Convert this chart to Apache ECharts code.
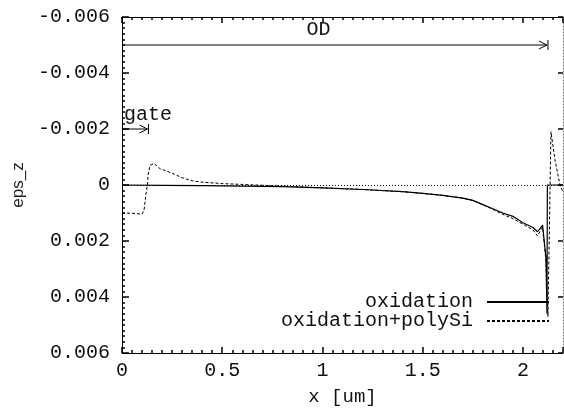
<!DOCTYPE html>
<html>
<head>
<meta charset="utf-8">
<script src="https://cdn.jsdelivr.net/npm/echarts@6/dist/echarts.min.js"></script>
<style>html,body{margin:0;padding:0;background:#fff;}#c{width:564px;height:416px;}</style>
</head>
<body>
<div id="c"></div>
<script>
// ---- data ----
const oxidationX = [0, 0.2, 0.4, 0.6, 0.8, 1.0, 1.2, 1.4, 1.5, 1.6, 1.7, 1.75, 1.8, 1.85, 1.9, 1.95, 2.0, 2.05, 2.073, 2.098, 2.115, 2.12, 2.122, 2.2];
const oxidationY = [0, 0.00001, 0.00002, 0.00004, 0.00006, 0.0001, 0.00016, 0.00024, 0.0003, 0.00037, 0.00047, 0.00055, 0.0007, 0.00085, 0.001, 0.00112, 0.00135, 0.00152, 0.00167, 0.00143, 0.0026, 0.0046, 0, 0];
const polySiX = [0, 0.05, 0.1, 0.11, 0.12, 0.127, 0.13, 0.14, 0.16, 0.19, 0.22, 0.25, 0.3, 0.35, 0.4, 0.5, 0.6, 0.8, 1.0, 1.2, 1.4, 1.5, 1.6, 1.7, 1.75, 1.8, 1.85, 1.9, 1.95, 2.0, 2.05, 2.073, 2.098, 2.115, 2.125, 2.13, 2.14, 2.16, 2.185, 2.2];
const polySiY = [0.001, 0.00101, 0.00104, 0.0009, 0.0003, 0, -0.00036, -0.0007, -0.00077, -0.00058, -0.0005, -0.00042, -0.00026, -0.00015, -0.0001, -0.00005, -0.00002, 0.00004, 0.0001, 0.00016, 0.00024, 0.0003, 0.00037, 0.00047, 0.00055, 0.0007, 0.00087, 0.00105, 0.0012, 0.0014, 0.0016, 0.00182, 0.0015, 0.0027, 0.0047, 0.0047, -0.0019, -0.0009, 0, 0.00025];
const seriesNames = ['oxidation', 'oxidation+polySi'];
const xTickLabels = ['0', '0.5', '1', '1.5', '2'];
const yTickLabels = ['-0.006', '-0.004', '-0.002', '0', '0.002', '0.004', '0.006'];
// annotation arrows: [from x, to x, y, label, label x, label y]
const annotations = [
  [0, 2.12, -0.005, 'OD', 0.98, -0.00555],
  [0, 0.127, -0.002, 'gate', 0.01, -0.0025]
];

const FONT = 'Liberation Mono';
const FS = 20;
const TICK = {color: '#000', width: 1.5};
const pairs = (xs, ys) => xs.map((x, i) => [x, ys[i]]);

const chart = echarts.init(document.getElementById('c'), null, {renderer: 'canvas'});

function fmtY(v) {
  const idx = Math.round((v + 0.006) / 0.002);
  return yTickLabels[idx] !== undefined ? yTickLabels[idx] : '';
}
function fmtX(v) {
  const idx = Math.round(v / 0.5);
  return Math.abs(v - idx * 0.5) < 1e-6 && xTickLabels[idx] !== undefined ? xTickLabels[idx] : '';
}

const option = {
  animation: false,
  backgroundColor: '#fff',
  grid: {left: 122, top: 17, right: 1, bottom: 63},
  xAxis: [
    {
      type: 'value', min: 0, max: 2.2, interval: 0.5, position: 'bottom',
      splitLine: {show: false},
      axisLine: {show: true, onZero: false, lineStyle: {color: '#000', width: 1}},
      axisTick: {show: true, inside: true, length: 6, lineStyle: TICK},
      minorTick: {show: true, splitNumber: 10, length: 3, lineStyle: TICK},
      axisLabel: {show: true, margin: 8, color: '#111', fontFamily: FONT, fontSize: FS, formatter: fmtX, showMaxLabel: false},
      name: 'x [um]', nameLocation: 'middle', nameGap: 34,
      nameTextStyle: {color: '#111', fontFamily: FONT, fontSize: 19}
    },
    {
      type: 'value', min: 0, max: 2.2, interval: 0.5, position: 'top',
      splitLine: {show: false},
      axisLine: {show: true, onZero: false, lineStyle: {color: '#000', width: 1}},
      axisTick: {show: true, inside: true, length: 6, lineStyle: TICK},
      minorTick: {show: true, splitNumber: 10, length: 3, lineStyle: TICK},
      axisLabel: {show: false}
    }
  ],
  yAxis: [
    {
      type: 'value', min: -0.006, max: 0.006, inverse: true, interval: 0.002, position: 'left',
      splitLine: {show: false},
      axisLine: {show: true, onZero: false, lineStyle: {color: '#000', width: 1}},
      axisTick: {show: true, inside: true, length: 7, lineStyle: TICK},
      minorTick: {show: true, splitNumber: 10, length: 3, lineStyle: TICK},
      axisLabel: {show: true, margin: 12, color: '#111', fontFamily: FONT, fontSize: FS, formatter: fmtY},
      name: 'eps_z', nameLocation: 'middle', nameGap: 95, nameRotate: 90,
      nameTextStyle: {color: '#222', fontFamily: 'Liberation Sans', fontSize: 17}
    },
    {
      type: 'value', min: -0.006, max: 0.006, inverse: true, interval: 0.002, position: 'right',
      splitLine: {show: false},
      axisLine: {show: true, onZero: false, lineStyle: {color: '#777', width: 1, type: [1, 2]}},
      axisTick: {show: true, inside: true, length: 5, lineStyle: TICK},
      axisLabel: {show: false}
    }
  ],
  legend: [
    {
      data: [seriesNames[0]], right: 9, top: 287, orient: 'vertical', align: 'right',
      itemWidth: 62, itemHeight: 18, selectedMode: false,
      itemStyle: {opacity: 0},
      textStyle: {fontFamily: FONT, fontSize: FS, color: '#111', padding: [0, 9, 0, 0]}
    },
    {
      data: [seriesNames[1]], right: 9, top: 306, orient: 'vertical', align: 'right',
      itemWidth: 62, itemHeight: 18, selectedMode: false,
      itemStyle: {opacity: 0},
      textStyle: {fontFamily: FONT, fontSize: FS, color: '#111', padding: [0, 9, 0, 0]}
    }
  ],
  series: [
    {
      name: seriesNames[0], type: 'line', data: pairs(oxidationX, oxidationY),
      symbol: 'none', z: 3,
      lineStyle: {color: '#000', width: 1.2, type: 'solid'},
      itemStyle: {color: '#000'},
      markLine: {
        silent: true, symbol: ['none', 'none'], label: {show: false},
        lineStyle: {color: '#000', width: 1, type: [1, 2]},
        data: [{yAxis: 0}]
      }
    },
    {
      name: seriesNames[1], type: 'line', data: pairs(polySiX, polySiY),
      symbol: 'none', z: 4,
      lineStyle: {color: '#000', width: 1, type: [3, 2]},
      itemStyle: {color: '#000'}
    },
    {
      type: 'custom', data: annotations, clip: false, silent: true, z: 5,
      encode: {x: [0, 1], y: 2},
      renderItem: function (params, api) {
        const y = api.value(2);
        const p0 = api.coord([api.value(0), y]);
        const p1 = api.coord([api.value(1), y]);
        const lp = api.coord([api.value(4), api.value(5)]);
        const label = annotations[params.dataIndex][3];
        const ls = {stroke: '#000', lineWidth: 1, fill: null};
        return {
          type: 'group',
          children: [
            {type: 'line', shape: {x1: p0[0], y1: p0[1], x2: p1[0], y2: p1[1]}, style: ls},
            {type: 'polyline', shape: {points: [[p1[0] - 8, p1[1] - 4], [p1[0], p1[1]], [p1[0] - 8, p1[1] + 4]]}, style: ls},
            {type: 'line', shape: {x1: p1[0] + 1, y1: p1[1] - 5, x2: p1[0] + 1, y2: p1[1] + 5}, style: ls},
            {type: 'text', x: lp[0], y: lp[1], style: {
              text: label, fill: '#111', font: FS + 'px "Liberation Mono"',
              align: label === 'OD' ? 'center' : 'left', verticalAlign: 'middle'
            }}
          ]
        };
      }
    }
  ]
};
chart.setOption(option);
</script>
</body>
</html>
